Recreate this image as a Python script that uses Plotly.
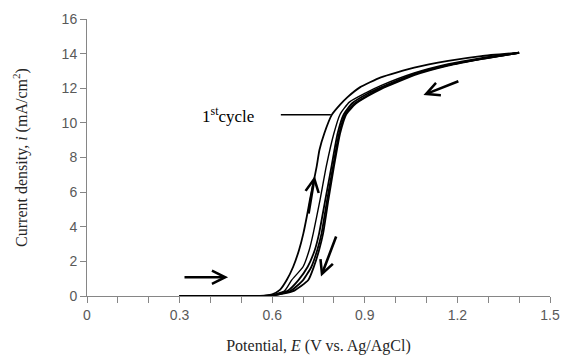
import plotly.graph_objects as go

# Cycle 1 (forward scan, leftmost curve)
E_c1 = [0.30, 0.40, 0.50, 0.55, 0.58, 0.60, 0.625, 0.647, 0.668, 0.687, 0.701, 0.712, 0.722, 0.733,
        0.744, 0.753, 0.769, 0.793, 0.82, 0.845, 0.884, 0.952, 1.06, 1.17, 1.277, 1.40]
I_c1 = [0.0, 0.0, 0.0, 0.01, 0.04, 0.10, 0.35, 0.92, 1.69, 2.66, 3.62, 4.58, 5.55, 6.5,
        7.47, 8.43, 9.4, 10.46, 11.05, 11.5, 12.05, 12.63, 13.19, 13.58, 13.86, 14.05]

# Following scans (bundle of curves to the right)
E_b1 = [0.30, 0.45, 0.55, 0.60, 0.64, 0.663, 0.70, 0.72, 0.733, 0.755, 0.775, 0.80, 0.82, 0.85,
        0.905, 0.952, 1.06, 1.17, 1.277, 1.40]
I_b1 = [0.0, 0.0, 0.0, 0.05, 0.3, 0.92, 1.69, 2.66, 3.62, 5.55, 7.47, 9.4, 10.5, 11.2,
        11.75, 12.15, 12.88, 13.4, 13.75, 14.05]

E_b2 = [0.30, 0.45, 0.55, 0.60, 0.65, 0.685, 0.715, 0.738, 0.752, 0.772, 0.792, 0.812, 0.832, 0.86,
        0.91, 0.952, 1.06, 1.17, 1.277, 1.40]
I_b2 = [0.0, 0.0, 0.0, 0.04, 0.3, 0.92, 1.69, 2.66, 3.62, 5.55, 7.47, 9.4, 10.5, 11.15,
        11.7, 12.05, 12.82, 13.35, 13.7, 14.05]

E_b3 = [0.30, 0.45, 0.55, 0.60, 0.66, 0.70, 0.727, 0.746, 0.760, 0.778, 0.797, 0.817, 0.837, 0.865,
        0.91, 0.952, 1.06, 1.17, 1.277, 1.40]
I_b3 = [0.0, 0.0, 0.0, 0.03, 0.3, 0.92, 1.69, 2.66, 3.62, 5.55, 7.47, 9.4, 10.5, 11.1,
        11.6, 12.0, 12.8, 13.33, 13.7, 14.05]

E_b4 = [0.30, 0.45, 0.55, 0.60, 0.67, 0.717, 0.735, 0.752, 0.765, 0.782, 0.80, 0.82, 0.84, 0.87,
        0.91, 0.952, 1.06, 1.17, 1.277, 1.40]
I_b4 = [0.0, 0.0, 0.0, 0.02, 0.3, 0.92, 1.69, 2.66, 3.62, 5.55, 7.47, 9.4, 10.5, 11.1,
        11.55, 11.95, 12.75, 13.3, 13.68, 14.05]

x_tick_vals = [0, 0.3, 0.6, 0.9, 1.2, 1.5]
x_tick_text = ["0", "0.3", "0.6", "0.9", "1.2", "1.5"]
y_tick_vals = [0, 2, 4, 6, 8, 10, 12, 14, 16]

label_text = "1<sup>st</sup>cycle"

fig = go.Figure()
curves = [(E_c1, I_c1, 1.8), (E_b1, I_b1, 1.4), (E_b2, I_b2, 1.8), (E_b3, I_b3, 1.8), (E_b4, I_b4, 1.8)]
for ex, iy, w in curves:
    fig.add_trace(go.Scatter(x=ex, y=iy, mode="lines",
                             line=dict(color="#000000", width=w, shape="spline", smoothing=0.5),
                             showlegend=False, hoverinfo="skip"))

axis_gray = "#868686"
serif = "Liberation Serif, Times New Roman, serif"

fig.update_layout(
    width=562, height=358,
    margin=dict(l=87, r=12, t=19, b=62),
    paper_bgcolor="white", plot_bgcolor="white",
    xaxis=dict(range=[0, 1.5], tickvals=x_tick_vals, ticktext=x_tick_text, automargin=False,
               ticklabeloverflow="allow",
               ticks="outside", ticklen=6, tickcolor=axis_gray, tickwidth=1,
               showline=True, linecolor=axis_gray, linewidth=1, showgrid=False, zeroline=False,
               minor=dict(tickvals=[0.1, 0.2, 0.4, 0.5, 0.7, 0.8, 1.0, 1.1, 1.3, 1.4],
                          ticks="outside", ticklen=6, tickcolor=axis_gray, tickwidth=1, showgrid=False),
               tickfont=dict(family="Liberation Sans, Arial, sans-serif", size=14, color="#595959"),
               title=dict(text="Potential, <i>E</i> (V vs. Ag/AgCl)",
                          font=dict(family=serif, size=16, color="#262626"), standoff=18)),
    yaxis=dict(range=[0, 16], tickvals=y_tick_vals, automargin=False,
               ticks="outside", ticklen=6, tickcolor=axis_gray, tickwidth=1,
               showline=True, linecolor=axis_gray, linewidth=1, showgrid=False, zeroline=False,
               tickfont=dict(family="Liberation Sans, Arial, sans-serif", size=14, color="#595959"),
               title=dict(text="Current density, <i>i</i> (mA/cm<sup>2</sup>)",
                          font=dict(family=serif, size=16, color="#262626"), standoff=30)),
)

arrow_style = dict(xref="x", yref="y", axref="x", ayref="y", showarrow=True,
                   arrowhead=5, arrowsize=1, arrowwidth=2.6, arrowcolor="#000000", text="", standoff=0)
fig.add_annotation(x=0.457, y=1.08, ax=0.311, ay=1.08, **arrow_style)
fig.add_annotation(x=0.738, y=6.93, ax=0.717, ay=4.68, **arrow_style)
fig.add_annotation(x=0.758, y=1.12, ax=0.809, ay=3.52, **arrow_style)
fig.add_annotation(x=1.090, y=11.61, ax=1.208, ay=12.44, **arrow_style)

fig.add_shape(type="line", xref="x", yref="y", x0=0.628, y0=10.47, x1=0.79, y1=10.47,
              line=dict(color="#000000", width=1.5))
fig.add_annotation(x=0.366, y=10.47, xref="x", yref="y", text=label_text, showarrow=False,
                   xanchor="left", yanchor="middle",
                   font=dict(family=serif, size=17, color="#000000"))

# Remove the browser's default page margin so the 562x358 figure fills the window exactly.
fig.write_html("out.html", config={"displayModeBar": False},
               post_script="document.body.style.margin='0';document.body.style.overflow='hidden';")
